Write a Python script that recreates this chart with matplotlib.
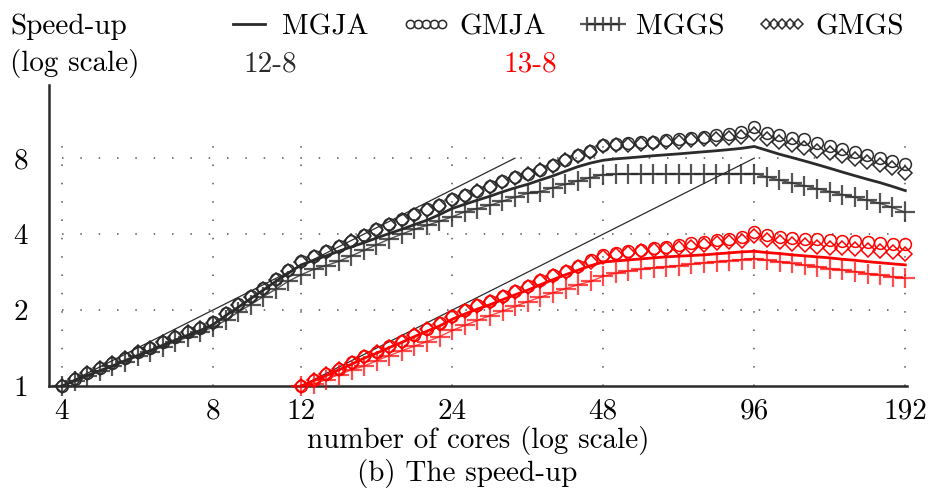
import matplotlib
matplotlib.use('Agg')
import matplotlib.pyplot as plt

plt.rcParams['font.family'] = ['cmr10', 'DejaVu Serif']
plt.rcParams['axes.unicode_minus'] = False
plt.rcParams['axes.formatter.use_mathtext'] = True

# ---- data ----
# run "12-8" (black), from 4 to 192 cores
cores_a = [4, 4.24, 4.49, 4.76, 5.04, 5.34, 5.66, 5.99, 6.35, 6.73, 7.13, 7.55,
           8, 8.48, 8.98, 9.51, 10.08, 10.68, 11.31, 11.99, 12.70, 13.45, 14.25, 15.10,
           16, 16.95, 17.96, 19.03, 20.16, 21.36, 22.63, 23.97, 25.40, 26.91, 28.51, 30.20,
           32, 33.90, 35.92, 38.05, 40.32, 42.71, 45.25, 48, 50.80, 53.82, 57.02, 60.41,
           64, 67.81, 71.84, 76.11, 80.63, 85.43, 90.51, 96, 101.6, 107.6, 114.0, 120.8,
           128, 135.6, 143.7, 152.2, 161.3, 170.9, 181.0, 192]
mgja_a = [1.00, 1.05, 1.10, 1.15, 1.20, 1.26, 1.32, 1.38, 1.45, 1.52, 1.59, 1.66,
          1.75, 1.90, 2.05, 2.22, 2.40, 2.60, 2.80, 3.02, 3.15, 3.28, 3.42, 3.56,
          3.70, 3.86, 4.02, 4.18, 4.36, 4.54, 4.78, 5.05, 5.25, 5.45, 5.65, 5.88,
          6.10, 6.30, 6.55, 6.80, 7.10, 7.40, 7.65, 7.85, 7.95, 8.02, 8.10, 8.18,
          8.25, 8.32, 8.40, 8.48, 8.56, 8.65, 8.75, 8.90, 8.60, 8.30, 8.05, 7.80,
          7.55, 7.30, 7.05, 6.82, 6.60, 6.40, 6.18, 5.95]
gmja_a = [1.00, 1.07, 1.13, 1.18, 1.23, 1.29, 1.36, 1.42, 1.49, 1.56, 1.63, 1.70,
          1.79, 1.95, 2.11, 2.28, 2.45, 2.65, 2.87, 3.13, 3.28, 3.44, 3.58, 3.76,
          3.97, 4.18, 4.38, 4.60, 4.81, 5.01, 5.21, 5.50, 5.73, 5.95, 6.20, 6.47,
          6.72, 6.93, 7.19, 7.50, 7.87, 8.22, 8.55, 9.05, 9.10, 9.20, 9.25, 9.30,
          9.45, 9.50, 9.65, 9.72, 9.87, 10.0, 10.2, 10.6, 10.1, 9.90, 9.65, 9.50,
          9.20, 8.95, 8.70, 8.45, 8.22, 8.02, 7.82, 7.60]
mggs_a = [1.00, 1.05, 1.10, 1.15, 1.20, 1.25, 1.31, 1.37, 1.43, 1.50, 1.56, 1.63,
          1.71, 1.82, 1.96, 2.10, 2.26, 2.42, 2.60, 2.76, 2.90, 3.00, 3.12, 3.28,
          3.45, 3.63, 3.82, 4.00, 4.18, 4.33, 4.50, 4.68, 4.90, 5.05, 5.20, 5.40,
          5.60, 5.80, 5.90, 6.10, 6.30, 6.50, 6.70, 6.88, 6.90, 6.92, 6.92, 6.93,
          6.93, 6.93, 6.93, 6.93, 6.94, 6.94, 6.94, 6.95, 6.75, 6.55, 6.38, 6.22,
          6.05, 5.90, 5.74, 5.60, 5.45, 5.30, 5.10, 4.88]
gmgs_a = [1.00, 1.07, 1.13, 1.18, 1.23, 1.29, 1.36, 1.42, 1.49, 1.56, 1.63, 1.70,
          1.78, 1.93, 2.09, 2.26, 2.43, 2.63, 2.85, 3.10, 3.25, 3.41, 3.56, 3.74,
          3.94, 4.15, 4.35, 4.57, 4.78, 4.98, 5.18, 5.45, 5.68, 5.92, 6.17, 6.44,
          6.70, 6.90, 7.17, 7.47, 7.84, 8.18, 8.50, 8.95, 9.00, 9.05, 9.12, 9.20,
          9.28, 9.30, 9.43, 9.52, 9.57, 9.62, 9.72, 9.95, 9.57, 9.30, 9.00, 8.80,
          8.55, 8.35, 8.15, 7.92, 7.70, 7.50, 7.32, 7.00]

# run "13-8" (red), from 12 to 192 cores
cores_b = [12, 12.71, 13.45, 14.27, 15.12, 16.02, 16.97, 17.98, 19.05, 20.18, 21.38, 22.65,
           24, 25.43, 26.94, 28.54, 30.24, 32.04, 33.94, 35.96, 38.10, 40.36, 42.77, 45.31,
           48, 50.85, 53.88, 57.08, 60.47, 64.07, 67.88, 71.92, 76.19, 80.72, 85.52, 90.61,
           96, 101.7, 107.8, 114.2, 121.0, 128.1, 135.8, 143.8, 152.4, 161.5, 171.1, 181.2,
           192]
mgja_b = [1.00, 1.05, 1.10, 1.16, 1.22, 1.29, 1.35, 1.42, 1.49, 1.57, 1.65, 1.73,
          1.84, 1.93, 2.02, 2.10, 2.20, 2.30, 2.40, 2.52, 2.64, 2.76, 2.88, 3.00,
          3.10, 3.13, 3.16, 3.19, 3.22, 3.25, 3.27, 3.29, 3.31, 3.34, 3.37, 3.40,
          3.42, 3.38, 3.35, 3.31, 3.28, 3.25, 3.22, 3.18, 3.15, 3.11, 3.08, 3.05,
          3.02]
gmja_b = [1.00, 1.06, 1.12, 1.17, 1.24, 1.31, 1.37, 1.44, 1.51, 1.60, 1.69, 1.77,
          1.90, 2.00, 2.09, 2.17, 2.27, 2.38, 2.49, 2.62, 2.75, 2.86, 3.00, 3.15,
          3.30, 3.36, 3.42, 3.47, 3.52, 3.56, 3.62, 3.68, 3.73, 3.79, 3.84, 3.90,
          4.08, 3.97, 3.90, 3.86, 3.84, 3.82, 3.79, 3.77, 3.75, 3.72, 3.70, 3.67,
          3.65]
mggs_b = [1.00, 1.02, 1.06, 1.11, 1.16, 1.20, 1.26, 1.32, 1.38, 1.44, 1.50, 1.57,
          1.66, 1.74, 1.82, 1.90, 1.98, 2.07, 2.16, 2.25, 2.34, 2.43, 2.52, 2.60,
          2.72, 2.80, 2.86, 2.90, 2.94, 2.97, 3.00, 3.04, 3.08, 3.11, 3.14, 3.17,
          3.20, 3.15, 3.11, 3.06, 3.01, 2.97, 2.92, 2.88, 2.84, 2.79, 2.75, 2.71,
          2.67]
gmgs_b = [1.00, 1.06, 1.12, 1.17, 1.23, 1.30, 1.36, 1.43, 1.50, 1.59, 1.68, 1.76,
          1.88, 1.98, 2.07, 2.15, 2.25, 2.36, 2.47, 2.60, 2.72, 2.83, 2.97, 3.11,
          3.25, 3.32, 3.37, 3.42, 3.46, 3.49, 3.53, 3.56, 3.62, 3.68, 3.73, 3.76,
          3.92, 3.79, 3.72, 3.67, 3.62, 3.56, 3.53, 3.51, 3.48, 3.45, 3.42, 3.39,
          3.35]

# ideal (linear) speed-up references
ideal_a_x, ideal_a_y = [4, 32], [1, 8]
ideal_b_x, ideal_b_y = [12, 96], [1, 8]

xticks = [4, 8, 12, 24, 48, 96, 192]
yticks = [1, 2, 4, 8]
grid_top = 9.9

dark = '#2b2b2b'
red = '#ff0000'

fig = plt.figure(figsize=(9.36, 4.96), dpi=100)
ax = fig.add_axes([49/936, 1-386/496, (907-49)/936, (386-85)/496])
ax.set_xscale('log', base=2)
ax.set_yscale('log', base=2)
ax.set_xlim(3.77, 193.5)
ax.set_ylim(1, 15.6)

# dotted grid
ax.vlines(xticks, 1, grid_top, colors='#555555', linestyles=(0, (1, 11)), linewidth=1.1, zorder=0)
ax.hlines(yticks[1:], 4, 192, colors='#555555', linestyles=(0, (1, 11)), linewidth=1.1, zorder=0)

# ideal lines
ax.plot(ideal_a_x, ideal_a_y, color=dark, lw=0.9)
ax.plot(ideal_b_x, ideal_b_y, color=dark, lw=0.9)

def draw(x, j, c, g, d, col, alpha_pl):
    l1, = ax.plot(x, j, color=col, lw=2.0, clip_on=False, zorder=3)
    l2, = ax.plot(x, c, ls='none', marker='o', ms=8.5, mfc='none', mec=col, mew=1.1,
                  clip_on=False, zorder=3)
    l3, = ax.plot(x, g, color=col, lw=1.0, marker='+', ms=15, mew=1.6, alpha=alpha_pl,
                  clip_on=False, zorder=3)
    l4, = ax.plot(x, d, ls='none', marker='D', ms=7.5, mfc='none', mec=col, mew=1.1,
                  clip_on=False, zorder=3)
    return [l1, l2, l3, l4]

handles = draw(cores_a, mgja_a, gmja_a, mggs_a, gmgs_a, dark, 0.8)
draw(cores_b, mgja_b, gmja_b, mggs_b, gmgs_b, red, 0.7)

for s in ['top', 'right']:
    ax.spines[s].set_visible(False)
for s in ['left', 'bottom']:
    ax.spines[s].set_linewidth(1.8)
    ax.spines[s].set_color(dark)

fs = 21
ax.set_xticks(xticks, [str(v) for v in xticks])
ax.set_yticks(yticks, [str(v) for v in yticks])
ax.minorticks_off()
ax.tick_params(axis='x', length=0, pad=9, labelsize=fs)
ax.tick_params(axis='y', length=0, pad=15, labelsize=fs)
ax.set_xlabel('number of cores (log scale)', fontsize=fs, labelpad=1)

fig.text(10/936, 1-27/496, 'Speed-up', fontsize=fs, ha='left', va='center')
fig.text(10/936, 1-64/496, '(log scale)', fontsize=fs, ha='left', va='center')
fig.text(270/936, 1-64/496, '12-8', fontsize=fs, ha='center', va='center', color=dark)
fig.text(530/936, 1-64/496, '13-8', fontsize=fs, ha='center', va='center', color=red)
fig.text(467/936, 1-473/496, '(b) The speed-up', fontsize=fs, ha='center', va='center')

fig.legend(handles, ['MGJA', 'GMJA', 'MGGS', 'GMGS'], ncol=4, numpoints=5,
           loc='center left', bbox_to_anchor=(224/936, 1-27/496), frameon=False,
           fontsize=fs, handlelength=1.7, handletextpad=0.3, columnspacing=1.1,
           markerscale=0.7, borderpad=0, borderaxespad=0)

fig.savefig('out.png', dpi=100)
